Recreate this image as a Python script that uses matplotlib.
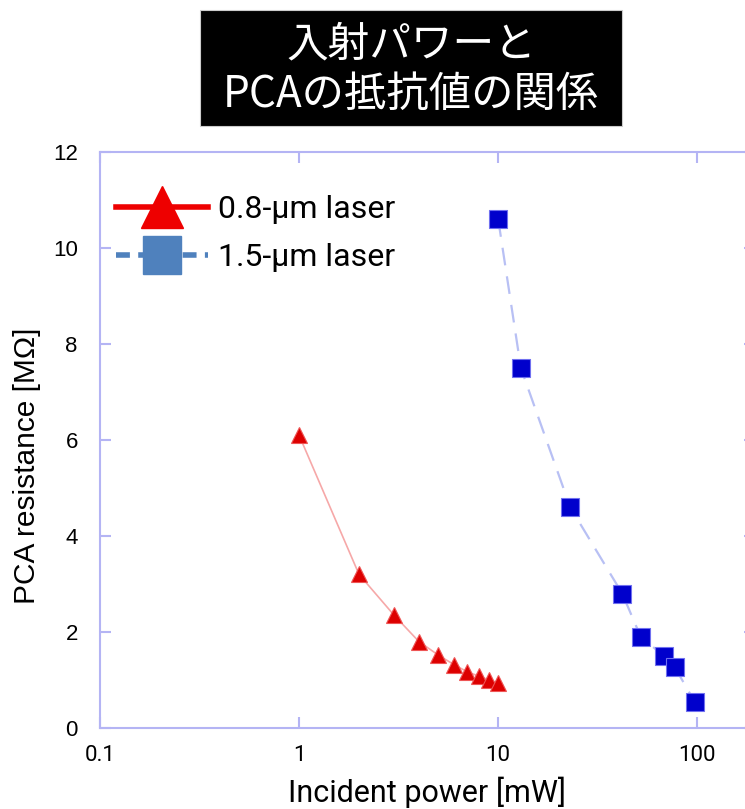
import matplotlib.pyplot as plt
from matplotlib.lines import Line2D
from matplotlib.patches import Rectangle

# 0.8-um laser (red triangles)
power_08 = [1, 2, 3, 4, 5, 6, 7, 8, 9, 10]
res_08 = [6.1, 3.2, 2.35, 1.8, 1.52, 1.32, 1.17, 1.08, 1.0, 0.94]

# 1.5-um laser (blue squares)
power_15 = [10, 13, 23, 42, 52, 68, 77, 97]
res_15 = [10.6, 7.5, 4.6, 2.8, 1.9, 1.5, 1.27, 0.55]

xticks = [0.1, 1, 10, 100]
xticklabels = ['0.1', '1', '10', '100']
yticks = [0, 2, 4, 6, 8, 10, 12]

title_lines = ['入射パワーと', 'PCAの抵抗値の関係']

narrow = ['Roboto', 'DejaVu Sans']
cjk = ['Noto Sans CJK JP', 'DejaVu Sans']
spine_c = '#b4b4f4'

fig = plt.figure(figsize=(7.45, 8.09), dpi=100)
W, H = 745, 809
ax = fig.add_axes([100 / W, (H - 728) / H, 655 / W, 576 / H])

ax.plot(power_08, res_08, color='#f6a8a8', lw=1.2, marker='^', markersize=12,
        markerfacecolor='#dd0000', markeredgecolor='#ee5555', markeredgewidth=0.8, zorder=3)
ax.plot(power_15, res_15, color='#b8c0f4', lw=1.6, ls=(0, (8, 5)), marker='s', markersize=13.5,
        markerfacecolor='#0000cc', markeredgecolor='#7070f0', markeredgewidth=0.8, zorder=3)

ax.set_xscale('log')
ax.set_xlim(0.1, 195)
ax.set_ylim(0, 12)
ax.set_xticks(xticks)
ax.set_xticklabels(xticklabels)
ax.xaxis.set_minor_locator(plt.NullLocator())
ax.set_yticks(yticks)

for s in ax.spines.values():
    s.set_color(spine_c)
    s.set_linewidth(1.5)
ax.tick_params(direction='in', length=8, width=1.5, color=spine_c,
               top=True, right=True, pad=12)
for lab in ax.get_xticklabels():
    lab.set_family(narrow)
    lab.set_fontsize(16)
for lab in ax.get_yticklabels():
    lab.set_family(['Liberation Sans', 'DejaVu Sans'])
    lab.set_fontsize(16)
ax.tick_params(axis='y', pad=16)

ax.set_xlabel('Incident power [mW]', family=narrow, fontsize=22, labelpad=8)
ax.set_ylabel('PCA resistance [MΩ]', family=['Liberation Sans', 'Noto Sans CJK JP'],
              fontsize=21.5)
ax.yaxis.set_label_coords(-0.09, 0.455)

handles = [
    Line2D([], [], color='#ee0000', lw=4, marker='^', markersize=30,
           markerfacecolor='#ee0000', markeredgecolor='#ee0000'),
    Line2D([], [], color='#4f81bd', lw=4, ls=(0, (2.5, 1.5)), marker='s', markersize=27,
           markerfacecolor='#4f81bd', markeredgecolor='#4f81bd'),
]
leg = ax.legend(handles, ['0.8-μm laser', '1.5-μm laser'], loc='upper left',
                bbox_to_anchor=(-0.02, 0.975), frameon=False, handlelength=2.9,
                handletextpad=0.3, labelspacing=0.6,
                prop={'family': narrow, 'size': 23})

# title box
fig.patches.append(Rectangle((200 / W, 1 - 126 / H), 422 / W, 116 / H,
                             transform=fig.transFigure, facecolor='black',
                             edgecolor='#cccccc', lw=0.8))
fig.text(411 / W, 1 - 45 / H, title_lines[0], color='white', family=cjk,
         fontsize=30, ha='center', va='center')
fig.text(411 / W, 1 - 95 / H, title_lines[1], color='white', family=cjk,
         fontsize=30.5, ha='center', va='center')

fig.savefig('out.png', dpi=100)
